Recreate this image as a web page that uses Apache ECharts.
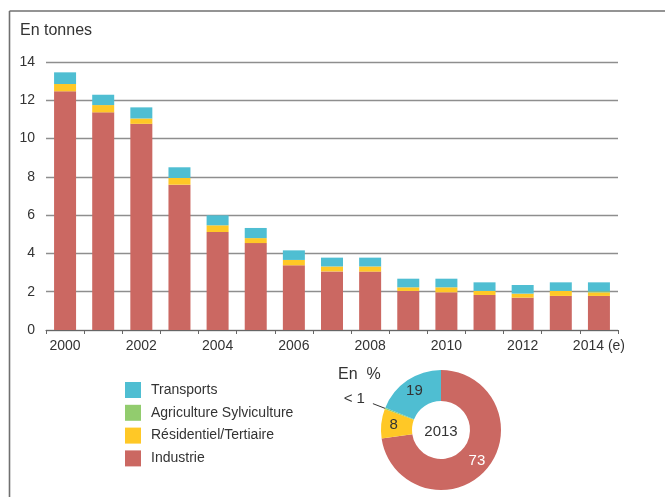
<!DOCTYPE html>
<html>
<head>
<meta charset="utf-8">
<script src="https://cdn.jsdelivr.net/npm/echarts@6/dist/echarts.min.js"></script>
<style>
  html, body { margin: 0; padding: 0; background: #ffffff; }
  #chart { width: 665px; height: 497px; }
</style>
</head>
<body>
<div id="chart"></div>
<script>
// Emissions by sector, in tonnes (2014 is an estimate)
const years = ['2000', '2001', '2002', '2003', '2004', '2005', '2006', '2007',
               '2008', '2009', '2010', '2011', '2012', '2013', '2014 (e)'];
const industrie    = [12.47, 11.37, 10.77, 7.59, 5.12, 4.54, 3.38, 3.06, 3.05, 2.04, 1.97, 1.83, 1.69, 1.78, 1.78];
const residentiel  = [0.38, 0.38, 0.28, 0.35, 0.35, 0.26, 0.28, 0.26, 0.27, 0.19, 0.26, 0.21, 0.21, 0.26, 0.18];
const agriculture  = [0, 0, 0, 0, 0, 0, 0, 0, 0, 0, 0, 0, 0, 0, 0.06];
const transports   = [0.61, 0.54, 0.58, 0.56, 0.52, 0.53, 0.50, 0.46, 0.46, 0.45, 0.45, 0.45, 0.45, 0.45, 0.47];

// 2013 breakdown, in %
const shareNames  = ['Industrie', 'Résidentiel/Tertiaire', 'Agriculture Sylviculture', 'Transports'];
const shareValues = [73, 8, 0.4, 19];

const yTicks = [0, 14, 2]; // min, max, step

const COLORS = {
  'Industrie': '#cb6862',
  'Résidentiel/Tertiaire': '#ffc826',
  'Agriculture Sylviculture': '#92cc6e',
  'Transports': '#4fbed2'
};
const FONT = "'Liberation Sans', 'DejaVu Sans', sans-serif";
const TEXT = '#333333';

function barSeries(name, values) {
  return {
    name: name,
    type: 'bar',
    stack: 'total',
    barWidth: 22,
    data: values,
    itemStyle: { color: COLORS[name] },
    emphasis: { disabled: true }
  };
}

const chart = echarts.init(document.getElementById('chart'), null, { renderer: 'canvas' });

chart.setOption({
  animation: false,
  backgroundColor: '#ffffff',
  textStyle: { fontFamily: FONT },
  grid: { left: 46, right: 47, top: 62, bottom: 167, containLabel: false },
  legend: {
    orient: 'vertical',
    left: 120,
    top: 377,
    itemWidth: 16,
    itemHeight: 16,
    itemGap: 6.8,
    icon: 'rect',
    selectedMode: false,
    data: ['Transports', 'Agriculture Sylviculture', 'Résidentiel/Tertiaire', 'Industrie'],
    textStyle: { fontFamily: FONT, fontSize: 14, color: TEXT, padding: [0, 0, 0, 5] }
  },
  xAxis: {
    type: 'category',
    data: years,
    boundaryGap: true,
    axisLine: { show: true, lineStyle: { color: '#666666', width: 1.2 } },
    axisTick: { show: true, interval: 0, length: 4, lineStyle: { color: '#666666', width: 1 } },
    axisLabel: { interval: 1, fontFamily: FONT, fontSize: 14, color: TEXT, margin: 9 }
  },
  yAxis: {
    type: 'value',
    min: yTicks[0],
    max: yTicks[1],
    interval: yTicks[2],
    axisLine: { show: false },
    axisTick: { show: false },
    axisLabel: { fontFamily: FONT, fontSize: 14, color: TEXT, margin: 11 },
    splitLine: { show: true, lineStyle: { color: '#8e8e8e', width: 1.4 } }
  },
  series: [
    barSeries('Industrie', industrie),
    barSeries('Résidentiel/Tertiaire', residentiel),
    barSeries('Agriculture Sylviculture', agriculture),
    barSeries('Transports', transports),
    {
      type: 'pie',
      center: [441, 430],
      radius: [29, 60],
      startAngle: 90,
      clockwise: true,
      avoidLabelOverlap: false,
      emphasis: { disabled: true },
      label: {
        show: true,
        position: 'inside',
        fontFamily: FONT,
        fontSize: 15,
        color: TEXT,
        formatter: p => (p.value < 1 ? '{small|< 1}' : String(p.value)),
        rich: {
          small: { fontFamily: FONT, fontSize: 15, color: TEXT, padding: [0, 0, 10, 0] }
        }
      },
      labelLine: { show: false },
      data: shareNames.map((n, i) => {
        const item = { name: n, value: shareValues[i], itemStyle: { color: COLORS[n] } };
        if (n === 'Industrie') {
          item.label = { color: '#ffffff' };
        }
        if (n === 'Agriculture Sylviculture') {
          item.label = { position: 'outside', distanceToLabelLine: 8, color: TEXT };
          item.labelLine = { show: true, length: 13, length2: 0, lineStyle: { color: '#333333', width: 1 } };
        }
        return item;
      })
    }
  ],
  graphic: [
    // outer frame: top and left rules
    { type: 'line', shape: { x1: 9.5, y1: 11, x2: 665, y2: 11 }, style: { stroke: '#707070', lineWidth: 1.6 } },
    { type: 'line', shape: { x1: 9.5, y1: 11, x2: 9.5, y2: 497 }, style: { stroke: '#707070', lineWidth: 1.6 } },
    { type: 'text', left: 20, top: 23, style: { text: 'En tonnes', font: '16px ' + FONT, fill: TEXT } },
    { type: 'text', left: 338, top: 367, style: { text: 'En  %', font: '16px ' + FONT, fill: TEXT } },
    { type: 'text', x: 441, y: 432, style: { text: '2013', font: '15px ' + FONT, fill: TEXT, align: 'center', verticalAlign: 'middle' } }
  ]
});
</script>
</body>
</html>
